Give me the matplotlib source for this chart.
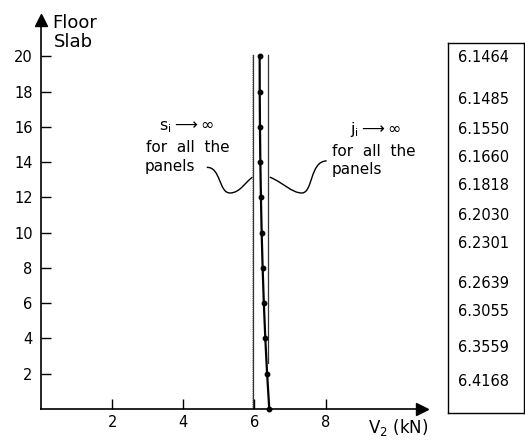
import matplotlib
matplotlib.use("Agg")
import matplotlib.pyplot as plt
from matplotlib.path import Path
from matplotlib.patches import PathPatch

# ------------------------------
# Data
# ------------------------------
floors = [20, 18, 16, 14, 12, 10, 8, 6, 4, 2, 0]
v2 = [6.1464, 6.1485, 6.1550, 6.1660, 6.1818, 6.2030,
      6.2301, 6.2639, 6.3055, 6.3559, 6.4168]
table_labels = ["6.1464", "6.1485", "6.1550", "6.1660", "6.1818", "6.2030",
                "6.2301", "6.2639", "6.3055", "6.3559", "6.4168"]

s_limit = 5.97   # s_i -> inf bound
j_limit = 6.38   # j_i -> inf bound
j_limit_bottom = 2.6

x_ticks = [2, 4, 6, 8]
y_ticks = [2, 4, 6, 8, 10, 12, 14, 16, 18, 20]

# table row positions (pixels from top), layout only
table_rows_px = [58, 100, 129, 158, 186, 215, 244, 283, 312, 348, 382]

plt.rcParams['font.family'] = 'DejaVu Sans'
plt.rcParams['mathtext.default'] = 'regular'

W, H = 525, 443
fig = plt.figure(figsize=(W / 100, H / 100), dpi=100)

# main axes: origin at (41, 409) px, x arrow to 427, y arrow to 13
ax = fig.add_axes([41 / W, (H - 409) / H, (422 - 41) / W, (409 - 20) / H])
ax.set_xlim(0, 10.71)
ax.set_ylim(0, 22.06)
for side in ['top', 'right']:
    ax.spines[side].set_visible(False)
for side in ['left', 'bottom']:
    ax.spines[side].set_linewidth(1.2)
ax.set_xticks(x_ticks)
ax.set_yticks(y_ticks)
ax.tick_params(direction='in', length=7, width=1.0, labelsize=10.5)
ax.tick_params(axis='x', pad=4)
ax.tick_params(axis='y', pad=6)

# axis arrowheads
ax.plot(1, 0, ">k", markersize=9, transform=ax.get_yaxis_transform(), clip_on=False)
ax.plot(0, 1, "^k", markersize=9, transform=ax.get_xaxis_transform(), clip_on=False)

# bounds
ax.plot([s_limit, s_limit], [0, 20.1], color='#333333', lw=0.9)
ax.plot([s_limit - 0.05, s_limit - 0.05], [0, 20.1], color='#777777', lw=0.6, ls=':')
ax.plot([j_limit, j_limit], [j_limit_bottom, 20.1], color='#333333', lw=0.9)

# result
ax.plot(v2, floors, color='black', lw=1.6, marker='o', markersize=3.2, clip_on=False)

# leader curves
left_curve = Path([(4.66, 13.7), (5.05, 13.75), (5.0, 12.25), (5.31, 12.25),
                   (5.6, 12.25), (5.75, 12.9), (s_limit - 0.02, 13.15)],
                  [Path.MOVETO, Path.CURVE4, Path.CURVE4, Path.CURVE4,
                   Path.CURVE4, Path.CURVE4, Path.CURVE4])
right_curve = Path([(j_limit + 0.05, 13.15), (6.8, 12.85), (7.05, 12.25), (7.33, 12.25),
                    (7.65, 12.25), (7.55, 14.05), (8.03, 14.07)],
                   [Path.MOVETO, Path.CURVE4, Path.CURVE4, Path.CURVE4,
                    Path.CURVE4, Path.CURVE4, Path.CURVE4])
for p in (left_curve, right_curve):
    ax.add_patch(PathPatch(p, fill=False, lw=1.0, color='black'))

# annotation texts
ax.text(4.10, 16.0, r"$s_i \longrightarrow \infty$", fontsize=11.5, ha='center', va='center')
ax.text(2.95, 14.85, "for  all  the", fontsize=11, ha='left', va='center')
ax.text(2.92, 13.75, "panels", fontsize=11, ha='left', va='center')

ax.text(9.40, 15.85, r"$j_i \longrightarrow \infty$", fontsize=11.5, ha='center', va='center')
ax.text(8.18, 14.6, "for  all  the", fontsize=11, ha='left', va='center')
ax.text(8.18, 13.6, "panels", fontsize=11, ha='left', va='center')

# axis labels
fig.text(52 / W, 1 - 23 / H, "Floor", fontsize=13, ha='left', va='center')
fig.text(54 / W, 1 - 42 / H, "Slab", fontsize=13, ha='left', va='center')
fig.text(368 / W, 1 - 428 / H, "V$_2$ (kN)", fontsize=12, ha='left', va='center')

# value table
tx0, tx1, ty0, ty1 = 448, 524, 43, 413
tab = fig.add_axes([tx0 / W, (H - ty1) / H, (tx1 - tx0) / W, (ty1 - ty0) / H])
tab.set_xticks([])
tab.set_yticks([])
for s in tab.spines.values():
    s.set_linewidth(1.0)
for lbl, py in zip(table_labels, table_rows_px):
    tab.text(0.47, (ty1 - py) / (ty1 - ty0), lbl, fontsize=10.5,
             ha='center', va='center', transform=tab.transAxes)

fig.savefig("out.png", dpi=100)
